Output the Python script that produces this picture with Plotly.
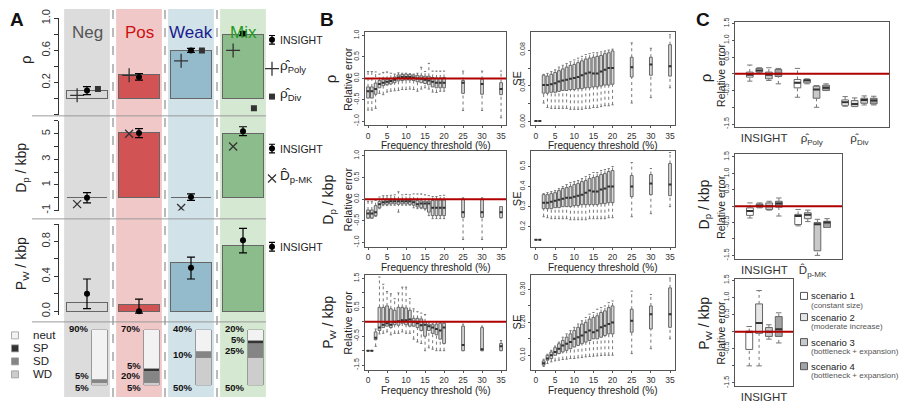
import plotly.graph_objects as go

W, H = 900, 403
FONT = "Liberation Sans, Arial, sans-serif"

# ------------------------------------------------------------------ panel A data
scenarios = ["Neg", "Pos", "Weak", "Mix"]
title_colors = ["#555555", "#cc1111", "#1a1a8c", "#1f9a1f"]
column_bg = ["#dcdcdc", "#f1c8c8", "#d1e2e9", "#d5e8d1"]
bar_colors = ["#d9d9d9", "#d25353", "#93bbcc", "#8cbc8b"]

rho_true = [0.10, 0.30, 0.60, 0.80]
rho_insight = [0.10, 0.27, 0.60, 0.81]
rho_insight_se = [0.05, 0.04, 0.025, 0.025]
rho_poly = [0.04, 0.29, 0.47, 0.60]
rho_div = [0.12, None, 0.60, -0.12]

dp_true = [0.0, 5.1, 0.0, 5.05]
dp_insight = [0.0, 5.05, 0.05, 5.2]
dp_insight_se = [0.4, 0.35, 0.25, 0.35]
dp_mk = [-0.5, 5.0, -0.8, 4.0]

pw_true = [0.10, 0.08, 0.565, 0.75]
pw_insight = [0.20, 0.0, 0.50, 0.815]
pw_insight_hi = [0.17, 0.14, 0.12, 0.135]
pw_insight_lo = [0.17, 0.02, 0.13, 0.145]

site_classes = ["neut", "SP", "SD", "WD"]
site_colors = ["#f2f2f2", "#333333", "#858585", "#cdcdcd"]
pct_neut = [90, 70, 40, 20]
pct_sp = [0, 5, 0, 5]
pct_sd = [5, 20, 10, 25]
pct_wd = [5, 5, 50, 50]

# ------------------------------------------------------------------ panel B data
# one row per threshold: [lower whisker, q1, median, q3, upper whisker]
thresholds = list(range(0, 21)) + [25, 30, 35]

rho_rel_err = [
    [-0.74, -0.46, -0.30, -0.20, 0.16], [-0.74, -0.46, -0.30, -0.20, 0.16],
    [-0.70, -0.37, -0.25, -0.11, 0.15], [-0.35, -0.22, -0.13, -0.05, 0.10],
    [-0.38, -0.17, -0.10, -0.03, 0.14], [-0.32, -0.15, -0.08, -0.02, 0.15],
    [-0.30, -0.13, -0.06, 0.00, 0.12], [-0.29, -0.10, -0.03, 0.03, 0.10],
    [-0.28, -0.06, 0.02, 0.08, 0.13], [-0.26, -0.05, 0.03, 0.09, 0.12],
    [-0.26, -0.04, 0.03, 0.10, 0.12], [-0.25, -0.04, 0.03, 0.09, 0.11],
    [-0.26, -0.05, 0.02, 0.08, 0.10], [-0.30, -0.08, 0.00, 0.07, 0.12],
    [-0.25, -0.10, -0.01, 0.06, 0.26], [-0.22, -0.12, -0.03, 0.05, 0.16],
    [-0.25, -0.15, -0.05, 0.05, 0.35], [-0.32, -0.20, -0.08, 0.02, 0.17],
    [-0.33, -0.22, -0.10, 0.01, 0.17], [-0.30, -0.22, -0.10, 0.01, 0.17],
    [-0.30, -0.22, -0.10, 0.02, 0.17], [-0.75, -0.35, -0.10, -0.05, 0.17],
    [-0.75, -0.37, -0.13, -0.02, 0.17], [-0.92, -0.38, -0.25, -0.10, 0.17],
]
rho_se = [
    [0.001, 0.001, 0.001, 0.001, 0.001], [0.001, 0.001, 0.001, 0.001, 0.001],
    [0.021, 0.032, 0.041, 0.052, 0.053], [0.016, 0.032, 0.041, 0.051, 0.054],
    [0.015, 0.033, 0.042, 0.053, 0.056], [0.015, 0.033, 0.043, 0.055, 0.058],
    [0.015, 0.034, 0.045, 0.057, 0.061], [0.015, 0.035, 0.046, 0.059, 0.063],
    [0.015, 0.035, 0.047, 0.061, 0.065], [0.014, 0.036, 0.048, 0.063, 0.067],
    [0.014, 0.036, 0.049, 0.064, 0.069], [0.014, 0.037, 0.050, 0.066, 0.071],
    [0.014, 0.037, 0.052, 0.068, 0.073], [0.015, 0.038, 0.054, 0.070, 0.075],
    [0.015, 0.038, 0.055, 0.071, 0.076], [0.016, 0.039, 0.054, 0.072, 0.077],
    [0.016, 0.039, 0.054, 0.073, 0.077], [0.017, 0.040, 0.056, 0.074, 0.078],
    [0.018, 0.041, 0.058, 0.076, 0.079], [0.018, 0.041, 0.060, 0.077, 0.080],
    [0.019, 0.042, 0.060, 0.079, 0.081], [0.021, 0.050, 0.061, 0.072, 0.088],
    [0.027, 0.052, 0.064, 0.072, 0.082], [0.038, 0.051, 0.062, 0.086, 0.097],
]
dp_rel_err = [
    [-0.44, -0.44, -0.33, -0.25, -0.05], [-0.44, -0.44, -0.33, -0.25, -0.05],
    [-0.40, -0.38, -0.30, -0.15, -0.03], [-0.22, -0.20, -0.12, -0.05, 0.05],
    [-0.15, -0.12, -0.07, 0.00, 0.08], [-0.15, -0.12, -0.06, 0.00, 0.08],
    [-0.14, -0.11, -0.05, 0.00, 0.09], [-0.14, -0.11, -0.05, 0.00, 0.10],
    [-0.30, -0.12, -0.05, -0.01, 0.17], [-0.14, -0.11, -0.05, -0.01, 0.10],
    [-0.14, -0.11, -0.05, -0.01, 0.11], [-0.14, -0.12, -0.05, -0.01, 0.10],
    [-0.20, -0.14, -0.07, -0.02, 0.12], [-0.22, -0.18, -0.12, -0.03, 0.12],
    [-0.22, -0.20, -0.10, -0.04, 0.12], [-0.25, -0.22, -0.10, -0.05, 0.10],
    [-0.38, -0.30, -0.10, -0.05, 0.08], [-0.45, -0.38, -0.20, -0.03, 0.06],
    [-0.45, -0.38, -0.20, -0.02, 0.06], [-0.45, -0.38, -0.20, -0.02, 0.08],
    [-0.45, -0.38, -0.20, -0.02, 0.09], [-0.93, -0.42, -0.30, 0.00, 0.03],
    [-0.93, -0.42, -0.30, 0.00, 0.03], [-0.43, -0.43, -0.30, -0.17, -0.17],
]
dp_se = [
    [0.135, 0.135, 0.135, 0.135, 0.135], [0.135, 0.135, 0.135, 0.135, 0.135],
    [0.250, 0.290, 0.320, 0.360, 0.365], [0.245, 0.290, 0.320, 0.360, 0.370],
    [0.240, 0.290, 0.325, 0.365, 0.375], [0.240, 0.295, 0.330, 0.370, 0.380],
    [0.240, 0.295, 0.335, 0.380, 0.390], [0.240, 0.300, 0.340, 0.390, 0.400],
    [0.240, 0.300, 0.345, 0.395, 0.410], [0.235, 0.300, 0.345, 0.400, 0.420],
    [0.235, 0.305, 0.350, 0.410, 0.425], [0.235, 0.305, 0.355, 0.415, 0.430],
    [0.235, 0.310, 0.360, 0.425, 0.440], [0.235, 0.310, 0.370, 0.430, 0.450],
    [0.240, 0.310, 0.380, 0.440, 0.460], [0.240, 0.310, 0.375, 0.445, 0.470],
    [0.240, 0.310, 0.375, 0.450, 0.470], [0.240, 0.315, 0.385, 0.460, 0.480],
    [0.240, 0.315, 0.390, 0.465, 0.485], [0.245, 0.320, 0.400, 0.475, 0.490],
    [0.245, 0.320, 0.400, 0.480, 0.500], [0.250, 0.350, 0.400, 0.455, 0.520],
    [0.265, 0.360, 0.415, 0.460, 0.490], [0.300, 0.355, 0.410, 0.515, 0.570],
]
pw_rel_err = [
    [-1.00, -1.00, -1.00, -1.00, -1.00], [-1.00, -1.00, -1.00, -1.00, -1.00],
    [-0.85, -0.62, -0.55, -0.35, -0.25], [-0.42, -0.30, -0.20, 0.50, 1.55],
    [-0.40, -0.20, -0.10, 0.50, 1.30], [-0.35, -0.15, -0.05, 0.55, 1.05],
    [-0.45, -0.20, -0.10, 0.45, 0.97], [-0.40, -0.10, 0.00, 0.40, 0.80],
    [-0.40, -0.12, 0.02, 0.50, 1.00], [-0.35, -0.05, 0.05, 0.50, 1.20],
    [-0.40, -0.10, 0.05, 0.48, 1.20], [-0.40, -0.15, 0.08, 0.40, 0.80],
    [-0.60, -0.15, 0.00, 0.12, 0.45], [-0.70, -0.20, -0.05, 0.12, 0.35],
    [-0.75, -0.30, -0.12, 0.10, 0.30], [-1.00, -0.50, -0.10, 0.00, 0.25],
    [-0.90, -0.30, -0.15, -0.08, 0.00], [-0.95, -0.40, -0.20, -0.10, -0.05],
    [-1.00, -0.45, -0.25, -0.08, 0.00], [-1.00, -0.60, -0.30, -0.05, 0.00],
    [-1.00, -0.75, -0.20, -0.05, 0.00], [-1.00, -1.00, -0.80, -0.15, -0.08],
    [-1.00, -1.00, -0.95, -0.20, -0.15], [-1.00, -1.00, -0.85, -0.75, -0.65],
]
pw_se = [
    None, None,
    [0.066, 0.070, 0.076, 0.083, 0.088], [0.075, 0.085, 0.090, 0.100, 0.103],
    [0.080, 0.090, 0.100, 0.110, 0.115], [0.083, 0.100, 0.110, 0.123, 0.128],
    [0.085, 0.105, 0.120, 0.135, 0.140], [0.087, 0.110, 0.130, 0.145, 0.155],
    [0.088, 0.115, 0.135, 0.155, 0.165], [0.090, 0.120, 0.140, 0.165, 0.175],
    [0.090, 0.125, 0.150, 0.175, 0.185], [0.092, 0.130, 0.155, 0.185, 0.195],
    [0.093, 0.135, 0.160, 0.195, 0.205], [0.095, 0.140, 0.170, 0.200, 0.215],
    [0.096, 0.145, 0.175, 0.210, 0.225], [0.097, 0.150, 0.170, 0.215, 0.230],
    [0.098, 0.150, 0.175, 0.220, 0.240], [0.099, 0.155, 0.185, 0.230, 0.245],
    [0.100, 0.160, 0.190, 0.235, 0.250], [0.100, 0.165, 0.195, 0.245, 0.260],
    [0.100, 0.165, 0.200, 0.250, 0.265], [0.105, 0.170, 0.205, 0.240, 0.295],
    [0.120, 0.180, 0.225, 0.250, 0.285], [0.150, 0.185, 0.225, 0.305, 0.335],
]

# ------------------------------------------------------------------ panel C data
c_scenarios = ["scenario 1", "scenario 2", "scenario 3", "scenario 4"]
c_notes = ["(constant size)", "(moderate increase)",
           "(bottleneck + expansion)", "(bottleneck + expansion)"]
c_fills = ["#ffffff", "#e6e6e6", "#c9c9c9", "#a3a3a3"]

c_rho_insight = [[-0.22, -0.10, -0.03, 0.05, 0.26], [0.02, 0.05, 0.10, 0.16, 0.18],
                 [-0.20, -0.15, -0.03, 0.05, 0.18], [-0.30, -0.08, 0.00, 0.13, 0.16]]
c_rho_poly = [[-0.70, -0.42, -0.27, -0.17, 0.16], [-0.30, -0.27, -0.20, -0.17, -0.15],
              [-1.00, -0.73, -0.47, -0.37, -0.35], [-0.50, -0.50, -0.42, -0.34, -0.30]]
c_rho_div = [[-0.97, -0.94, -0.85, -0.78, -0.68], [-0.98, -0.97, -0.90, -0.80, -0.72],
             [-0.93, -0.88, -0.78, -0.73, -0.66], [-0.93, -0.90, -0.80, -0.73, -0.67]]
c_dp_insight = [[-0.36, -0.28, -0.15, -0.05, 0.10], [-0.05, -0.03, 0.02, 0.07, 0.10],
                [-0.12, -0.10, 0.00, 0.10, 0.15], [-0.30, -0.03, 0.08, 0.15, 0.25]]
c_dp_mk = [[-0.60, -0.56, -0.30, -0.25, -0.10], [-0.47, -0.38, -0.26, -0.20, -0.12],
           [-1.50, -1.36, -0.55, -0.50, -0.40], [-0.65, -0.65, -0.50, -0.46, -0.38]]
c_pw_insight = [[-1.00, -0.52, 0.00, 0.00, 0.15], [-1.00, -0.05, 0.25, 0.81, 1.20],
                [-0.22, -0.14, 0.00, 0.12, 0.20], [-0.33, -0.14, 0.07, 0.44, 0.55]]

# ------------------------------------------------------------------ helpers
fig = go.Figure()
axes = {}
n_ax = [0]


def add_axes(x_px, y_px, xrange, yrange, xopt=None, yopt=None):
    """New x/y axis pair placed by pixel box (left,right) x (top,bottom)."""
    n_ax[0] += 1
    s = "" if n_ax[0] == 1 else str(n_ax[0])
    xa = dict(domain=[x_px[0] / W, x_px[1] / W], range=xrange, anchor="y" + s,
              showgrid=False, zeroline=False)
    ya = dict(domain=[1 - y_px[1] / H, 1 - y_px[0] / H], range=yrange, anchor="x" + s,
              showgrid=False, zeroline=False)
    xa.update(xopt or {})
    ya.update(yopt or {})
    axes["xaxis" + s] = xa
    axes["yaxis" + s] = ya
    return "x" + s, "y" + s


def label(text, x, y, size=12, color="#222", angle=0, xanchor="center", bold=False):
    fig.add_annotation(text=f"<b>{text}</b>" if bold else text, x=x / W, y=1 - y / H,
                       xref="paper", yref="paper", showarrow=False, textangle=angle,
                       xanchor=xanchor, yanchor="middle",
                       font=dict(family=FONT, size=size, color=color))


def framed(tickvals, ticktext=None, size=7, angle=-90, **extra):
    d = dict(showline=True, mirror=True, linecolor="#555", linewidth=1, ticks="outside",
             ticklen=3, tickwidth=1, tickcolor="#555", tickvals=tickvals, tickangle=angle,
             tickfont=dict(family=FONT, size=size, color="#333"))
    if ticktext is not None:
        d["ticktext"] = ticktext
    d.update(extra)
    return d


def draw_boxes(xa, ya, pos, stats, fill, width):
    keep = [(p, s) for p, s in zip(pos, stats) if s is not None]
    pos = [p for p, _ in keep]
    lo, q1, med, q3, hi = zip(*[s for _, s in keep])
    fig.add_trace(go.Box(x=pos, q1=q1, median=med, q3=q3, lowerfence=q1, upperfence=q3,
                         width=width, fillcolor=fill, line=dict(color="#666", width=1),
                         whiskerwidth=0, boxpoints=False, xaxis=xa, yaxis=ya,
                         hoverinfo="skip"))
    half, cap = width / 2, width * 0.4
    wx, wy, cx, cy, mx, my = [], [], [], [], [], []
    for p, a, b, m, c, d in zip(pos, lo, q1, med, q3, hi):
        wx += [p, p, None, p, p, None]
        wy += [a, b, None, c, d, None]
        cx += [p - cap, p + cap, None, p - cap, p + cap, None]
        cy += [a, a, None, d, d, None]
        mx += [p - half, p + half, None]
        my += [m, m, None]
    fig.add_trace(go.Scatter(x=wx, y=wy, mode="lines", xaxis=xa, yaxis=ya, hoverinfo="skip",
                             line=dict(color="#777", width=1, dash="dot")))
    fig.add_trace(go.Scatter(x=cx, y=cy, mode="lines", xaxis=xa, yaxis=ya, hoverinfo="skip",
                             line=dict(color="#777", width=1)))
    fig.add_trace(go.Scatter(x=mx, y=my, mode="lines", xaxis=xa, yaxis=ya, hoverinfo="skip",
                             line=dict(color="#333", width=2)))


def zero_line(xa, ya):
    fig.add_shape(type="line", xref=xa + " domain", x0=0, x1=1, yref=ya, y0=0, y1=0,
                  line=dict(color="#b00000", width=2), layer="above")


# ------------------------------------------------------------------ panel A
pos = [1, 2, 3, 4]
A_X = (61, 269)
hidden = dict(visible=False)


def a_yaxis(vals, text):
    return dict(anchor="free", position=58 / W, showline=True, linecolor="#333", linewidth=1,
                ticks="outside", ticklen=4, tickcolor="#333", tickvals=vals, ticktext=text,
                tickangle=-90, tickfont=dict(family=FONT, size=11, color="#333"))


xa1, ya1 = add_axes(A_X, (9.7, 109.7), [0.5, 4.5], [-0.2, 1.0], hidden,
                    a_yaxis([-0.2, 0, 0.2, 0.4, 0.6, 0.8, 1.0], ["", "", "0.2", "", "0.6", "", "1.0"]))
xa2, ya2 = add_axes(A_X, (116.3, 209.3), [0.5, 4.5], [-1, 6], hidden,
                    a_yaxis(list(range(-1, 7)), ["-1", "", "1", "", "3", "", "5", ""]))
xa3, ya3 = add_axes(A_X, (223.4, 317.6), [0.5, 4.5], [-0.04, 1.0], hidden,
                    a_yaxis([0, 0.2, 0.4, 0.6, 0.8, 1.0], ["0.0", "", "0.4", "", "0.8", ""]))
xa4, ya4 = add_axes(A_X, (333, 391), [0.5, 4.5], [0, 100], hidden, hidden)

for p, bg in zip(pos, column_bg):
    fig.add_shape(type="rect", xref=xa1, yref="paper", x0=p - 0.44, x1=p + 0.44, y0=0, y1=1,
                  fillcolor=bg, line_width=0, layer="below")
for p in pos[:-1]:
    fig.add_shape(type="line", xref=xa1, yref="paper", x0=p + 0.5, x1=p + 0.5, y0=0, y1=1,
                  line=dict(color="#777", width=1, dash="dash"), layer="below")
for yy in (111, 218, 325):
    fig.add_shape(type="line", xref="paper", yref="paper", x0=32 / W, x1=266 / W,
                  y0=1 - yy / H, y1=1 - yy / H, line=dict(color="#9a9a9a", width=1))

rows = [
    (xa1, ya1, rho_true, rho_insight, rho_insight_se, rho_insight_se, rho_poly, "cross-thin", 10),
    (xa2, ya2, dp_true, dp_insight, dp_insight_se, dp_insight_se, dp_mk, "x-thin", 8),
    (xa3, ya3, pw_true, pw_insight, pw_insight_hi, pw_insight_lo, None, None, 0),
]
for xa, ya, truth, est, e_hi, e_lo, alt, sym, sz in rows:
    fig.add_trace(go.Bar(x=pos, y=truth, width=0.77, xaxis=xa, yaxis=ya,
                         marker=dict(color=bar_colors, line=dict(color="#666", width=1))))
    if alt is not None:
        fig.add_trace(go.Scatter(x=[p - 0.19 for p in pos], y=alt, mode="markers", xaxis=xa,
                                 yaxis=ya, marker=dict(symbol=sym, size=sz,
                                                       line=dict(color="#333", width=1.3))))
    fig.add_trace(go.Scatter(x=pos, y=est, mode="markers", xaxis=xa, yaxis=ya,
                             marker=dict(symbol="circle", size=6, color="black"),
                             error_y=dict(type="data", array=e_hi, arrayminus=e_lo,
                                          color="black", thickness=1.2, width=4)))
fig.add_trace(go.Scatter(x=[p + 0.21 for p in pos], y=rho_div, mode="markers", xaxis=xa1,
                         yaxis=ya1, marker=dict(symbol="square", size=6, color="#333")))

# site composition (stacked from the bottom: WD, SD, SP, neut)
stack_x = [p + 0.24 for p in pos]
stack = [(pct_wd, site_colors[3]), (pct_sd, site_colors[2]), (pct_sp, site_colors[1]),
         (pct_neut, site_colors[0])]
for vals, col in stack:
    fig.add_trace(go.Bar(x=stack_x, y=[v if v else None for v in vals], width=0.29,
                         xaxis=xa4, yaxis=ya4,
                         marker=dict(color=col, line=dict(color="#888", width=0.8))))

GAP = 19
for i, p in enumerate(stack_x):
    left = p - 0.145
    marks = [(0, pct_wd[i], -2)]
    base = pct_wd[i]
    prev = -2
    for v in (pct_sd[i], pct_sp[i]):
        if v:
            y = max(base + v / 2, prev + GAP)
            marks.append((y, v, 0))
            prev = y
        base += v
    marks.append((100, pct_neut[i], 1))
    for y, v, shift in marks:
        fig.add_annotation(text=f"<b>{v}%</b>", x=left, y=y, xref=xa4, yref=ya4,
                           showarrow=False, xanchor="right", yanchor="middle", xshift=-1,
                           yshift=shift, font=dict(family=FONT, size=9.5, color="#111"))

for p, name, col in zip(pos, scenarios, title_colors):
    fig.add_annotation(text=name, x=p, y=1 - 12 / H, xref=xa1, yref="paper", showarrow=False,
                       font=dict(family=FONT, size=17, color=col))

label("A", 17, 11, size=19, color="#111", bold=True)
label("ρ", 25, 53, size=15, angle=-90)
label("D<sub>p</sub> / kbp", 22, 165, size=14, angle=-90)
label("P<sub>W</sub> / kbp", 22, 265, size=14, angle=-90)

# ------------------------------------------------------------------ panel B
B_COLS = [(365, 506), (531, 675)]
B_ROWS = [(24, 121), (148, 247), (276, 375)]
B_XR = [[-0.8, 36.3], [-1.3, 36.3]]
re_ticks = ([-1, -0.5, 0, 0.5, 1], ["-1.0", "-0.5", "0.0", "0.5", "1.0"])
b_panels = [
    (0, 0, rho_rel_err, [-1.1, 1.08], re_ticks, True),
    (0, 1, rho_se, [-0.004, 0.1], ([0, 0.02, 0.04, 0.06, 0.08], ["0.00", "", "0.04", "", "0.08"]), False),
    (1, 0, dp_rel_err, [-1.1, 1.1], re_ticks, True),
    (1, 1, dp_se, [0.10, 0.575], ([0.2, 0.3, 0.4, 0.5], ["0.2", "0.3", "0.4", "0.5"]), False),
    (2, 0, pw_rel_err, [-1.67, 1.63],
     ([-1.5, -1, -0.5, 0, 0.5, 1, 1.5], ["-1.5", "", "-0.5", "", "0.5", "", "1.5"]), True),
    (2, 1, pw_se, [0.055, 0.345],
     ([0.10, 0.15, 0.20, 0.25, 0.30], ["0.10", "", "0.20", "", "0.30"]), False),
]
for r, c, stats, yr, (tv, tt), is_err in b_panels:
    xa, ya = add_axes(B_COLS[c], B_ROWS[r], B_XR[c], yr,
                      framed(list(range(0, 36, 5)), size=8.5, angle=0, ticklen=2),
                      framed(tv, tt, ticklen=2))
    draw_boxes(xa, ya, thresholds, stats, "#d9d9d9", 0.72)
    if is_err:
        zero_line(xa, ya)
    cx = sum(B_COLS[c]) / 2
    label("Frequency threshold (%)", cx, B_ROWS[r][1] + 21, size=10)
    mid = sum(B_ROWS[r]) / 2
    if c == 0:
        label("Relative error", 348, mid, size=10.5, angle=-90)
    else:
        label("SE", 517, mid, size=11, angle=-90)

label("B", 327, 11, size=19, color="#111", bold=True)
label("ρ", 330, 73, size=15, angle=-90)
label("D<sub>p</sub> / kbp", 329, 198, size=14, angle=-90)
label("P<sub>W</sub> / kbp", 329, 326, size=14, angle=-90)

# ------------------------------------------------------------------ panel C
c_ticks = ([-1.5, -1, -0.5, 0, 0.5, 1, 1.5], ["-1.5", "", "-0.5", "", "0.5", "1.0", "1.5"])
c_panels = [
    ((735, 889), (14, 123), [-0.55, 15.6], [-1.6, 1.53],
     [c_rho_insight, c_rho_poly, c_rho_div],
     ["INSIGHT", "ρ\u0302<sub>Poly</sub>", "ρ\u0302<sub>Div</sub>"]),
    ((735, 842), (151, 260), [-0.55, 10.55], [-1.62, 1.58],
     [c_dp_insight, c_dp_mk], ["INSIGHT", "D\u0302<sub>p-MK</sub>"]),
    ((735, 793), (280, 392), [-0.45, 5.45], [-1.6, 1.55],
     [c_pw_insight], ["INSIGHT"]),
]
for xp, yp, xr, yr, groups, names in c_panels:
    centers = [2.5 + 5 * g for g in range(len(groups))]
    xa, ya = add_axes(xp, yp, xr, yr,
                      framed(centers, names, size=11.5, angle=0, ticks="", ticklen=0),
                      framed(*c_ticks, ticklen=2))
    for j, fill in enumerate(c_fills):
        xs = [1 + 5 * g + j for g in range(len(groups))]
        draw_boxes(xa, ya, xs, [grp[j] for grp in groups], fill, 0.7)
    zero_line(xa, ya)
    label("Relative error", 721, sum(yp) / 2, size=10.5, angle=-90)

label("C", 703, 11, size=19, color="#111", bold=True)
label("ρ", 705, 72, size=15, angle=-90)
label("D<sub>p</sub> / kbp", 705, 203, size=14, angle=-90)
label("P<sub>W</sub> / kbp", 705, 327, size=14, angle=-90)

# ------------------------------------------------------------------ legend glyphs (pixel overlay)
xo, yo = add_axes((0, W), (0, H), [0, W], [H, 0], hidden, hidden)
for gy in (32, 145, 247):
    fig.add_trace(go.Scatter(x=[272], y=[gy], mode="markers", xaxis=xo, yaxis=yo,
                             marker=dict(symbol="circle", size=6, color="black"),
                             error_y=dict(type="data", array=[4.5], color="black",
                                          thickness=1.2, width=3)))
    label("INSIGHT", 278, gy, size=10.5, xanchor="left")
fig.add_trace(go.Scatter(x=[272], y=[62], mode="markers", xaxis=xo, yaxis=yo,
                         marker=dict(symbol="cross-thin", size=10, line=dict(color="#333", width=1.3))))
fig.add_trace(go.Scatter(x=[272], y=[91], mode="markers", xaxis=xo, yaxis=yo,
                         marker=dict(symbol="square", size=6, color="#333")))
fig.add_trace(go.Scatter(x=[272], y=[176], mode="markers", xaxis=xo, yaxis=yo,
                         marker=dict(symbol="x-thin", size=8, line=dict(color="#333", width=1.3))))
label("ρ\u0302<sub>Poly</sub>", 278, 60, size=13.5, xanchor="left")
label("ρ\u0302<sub>Div</sub>", 278, 89, size=13.5, xanchor="left")
label("D\u0302<sub>p-MK</sub>", 278, 174, size=13.5, xanchor="left")

for k, (name, col) in enumerate(zip(site_classes, site_colors)):
    gy = 339 + 13.5 * k
    fig.add_trace(go.Scatter(x=[15], y=[gy], mode="markers", xaxis=xo, yaxis=yo,
                             marker=dict(symbol="square", size=7, color=col,
                                         line=dict(color="#999", width=0.8))))
    label(name, 31, gy, size=11.5, xanchor="left")

for k, (name, note, fill) in enumerate(zip(c_scenarios, c_notes, c_fills)):
    gy = [298, 320, 346, 371][k]
    fig.add_trace(go.Scatter(x=[804], y=[gy], mode="markers", xaxis=xo, yaxis=yo,
                             marker=dict(symbol="square", size=7, color=fill,
                                         line=dict(color="#555", width=1))))
    label(name, 809, gy, size=9.5, xanchor="left")
    label(note, 809, gy + 10, size=8, color="#555", xanchor="left")

fig.update_layout(**axes)
fig.update_layout(width=W, height=H, margin=dict(l=0, r=0, t=0, b=0), showlegend=False,
                  barmode="stack", paper_bgcolor="white", plot_bgcolor="rgba(0,0,0,0)",
                  font=dict(family=FONT, color="#222"))
fig.write_html("out.html", config={"displayModeBar": False},
               post_script="document.body.style.margin='0px';")
